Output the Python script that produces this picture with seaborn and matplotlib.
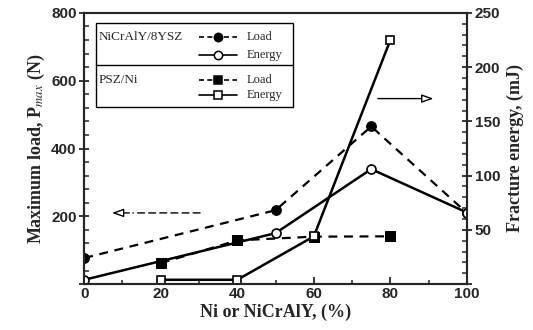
import matplotlib
matplotlib.use("Agg")
import matplotlib.pyplot as plt
import seaborn as sns
from matplotlib.lines import Line2D
from matplotlib.patches import Rectangle
from matplotlib.ticker import MultipleLocator, FuncFormatter

# data
ncy_x = [0, 50, 75, 100]
ncy_load = [77, 218, 465, 210]        # N
ncy_energy = [4, 47, 106, 66]         # mJ
psz_x = [20, 40, 60, 80]
psz_load = [62, 129, 140, 141]        # N
psz_energy = [4, 4, 44, 225]          # mJ

sns.set_style("ticks")
plt.rcParams["font.family"] = ["Liberation Serif", "DejaVu Serif"]
plt.rcParams["mathtext.fontset"] = "stix"

fig = plt.figure(figsize=(5.33, 3.3), dpi=100)
ax = fig.add_axes([0.158, 0.139, 0.718, 0.822])
ax2 = ax.twinx()

lw = 1.8
sns.lineplot(x=ncy_x, y=ncy_load, ax=ax, color="black", lw=1.6,
             linestyle=(0, (4, 3)), marker="o", markersize=7, mfc="black", mec="black")
sns.lineplot(x=psz_x, y=psz_load, ax=ax, color="black", lw=1.6,
             linestyle=(0, (4, 3)), marker="s", markersize=6.5, mfc="black", mec="black")
sns.lineplot(x=ncy_x, y=ncy_energy, ax=ax2, color="black", lw=lw,
             marker="o", markersize=6.5, mfc="white", mec="black", mew=1.2)
sns.lineplot(x=psz_x, y=psz_energy, ax=ax2, color="black", lw=lw,
             marker="s", markersize=6, mfc="white", mec="black", mew=1.2)

ax.set_xlim(0, 100)
ax.set_ylim(0, 800)
ax2.set_ylim(0, 250)
for a in (ax, ax2):
    a.set_zorder(1)
    a.patch.set_visible(False)
    for s in a.spines.values():
        s.set_linewidth(1.5)

ax.xaxis.set_major_locator(MultipleLocator(20))
ax.xaxis.set_minor_locator(MultipleLocator(10))
ax.yaxis.set_major_locator(MultipleLocator(200))
ax.yaxis.set_minor_locator(MultipleLocator(40))
ax2.yaxis.set_major_locator(MultipleLocator(50))
ax2.yaxis.set_minor_locator(MultipleLocator(10))
# the zero is shared with the x axis, so hide it on both y axes
no_zero = FuncFormatter(lambda v, p: "" if v == 0 else f"{v:.0f}")
ax.yaxis.set_major_formatter(no_zero)
ax2.yaxis.set_major_formatter(no_zero)

for a in (ax, ax2):
    a.tick_params(which="major", direction="inout", length=7, width=1.3, pad=2,
                  labelsize=11)
    a.tick_params(which="minor", direction="in", length=3.5, width=1.1)
    for lab in a.get_xticklabels() + a.get_yticklabels():
        lab.set_family("Liberation Sans")
        lab.set_fontweight("bold")
ax.tick_params(axis="x", which="major", direction="in", length=5)
ax.tick_params(axis="x", which="minor", direction="in", length=3)

labfont = dict(fontsize=13, fontweight="bold")
ax.set_xlabel("Ni or NiCrAlY, (%)", labelpad=2, **labfont)
ax.set_ylabel(r"Maximum load, P$_{max}$ (N)", labelpad=3, **labfont)
ax2.set_ylabel("Fracture energy, (mJ)", labelpad=5, **labfont)

# direction arrows
ax.annotate("", xy=(12, 210), xytext=(31, 210),
            arrowprops=dict(arrowstyle="-", lw=1.0, linestyle=(0, (5, 3)), color="black"))
ax.annotate("", xy=(6.5, 210), xytext=(12.5, 210),
            arrowprops=dict(arrowstyle="-|>,head_width=0.25,head_length=0.7",
                            lw=1.0, fc="white", ec="black"))
ax2.annotate("", xy=(92, 171), xytext=(76, 171),
             arrowprops=dict(arrowstyle="-|>,head_width=0.25,head_length=0.7",
                             lw=1.0, fc="white", ec="black"))

# boxed legend with two groups
tr = ax.transAxes
ax.add_patch(Rectangle((0.031, 0.653), 0.515, 0.31, transform=tr, fill=False,
                       lw=1.0, ec="black", zorder=5))
ax.add_line(Line2D([0.031, 0.546], [0.808, 0.808], transform=tr, lw=1.0, color="black", zorder=5))
ax.text(0.038, 0.911, "NiCrAlY/8YSZ", transform=tr, fontsize=9.5, va="center", ha="left")
ax.text(0.038, 0.753, "PSZ/Ni", transform=tr, fontsize=9.5, va="center", ha="left")
rows = [
    (0.911, "o", "black", (0, (3, 2)), "Load"),
    (0.845, "o", "white", "-", "Energy"),
    (0.753, "s", "black", (0, (3, 2)), "Load"),
    (0.697, "s", "white", "-", "Energy"),
]
for y, m, fc, ls, lab in rows:
    ax.add_line(Line2D([0.30, 0.40], [y, y], transform=tr, color="black", lw=1.2,
                       linestyle=ls, zorder=5))
    ax.add_line(Line2D([0.35], [y], transform=tr, marker=m, markersize=6,
                       mfc=fc, mec="black", mew=1.1, zorder=6))
    ax.text(0.425, y, lab, transform=tr, fontsize=9, va="center", ha="left")

fig.savefig("out.png", dpi=100)
